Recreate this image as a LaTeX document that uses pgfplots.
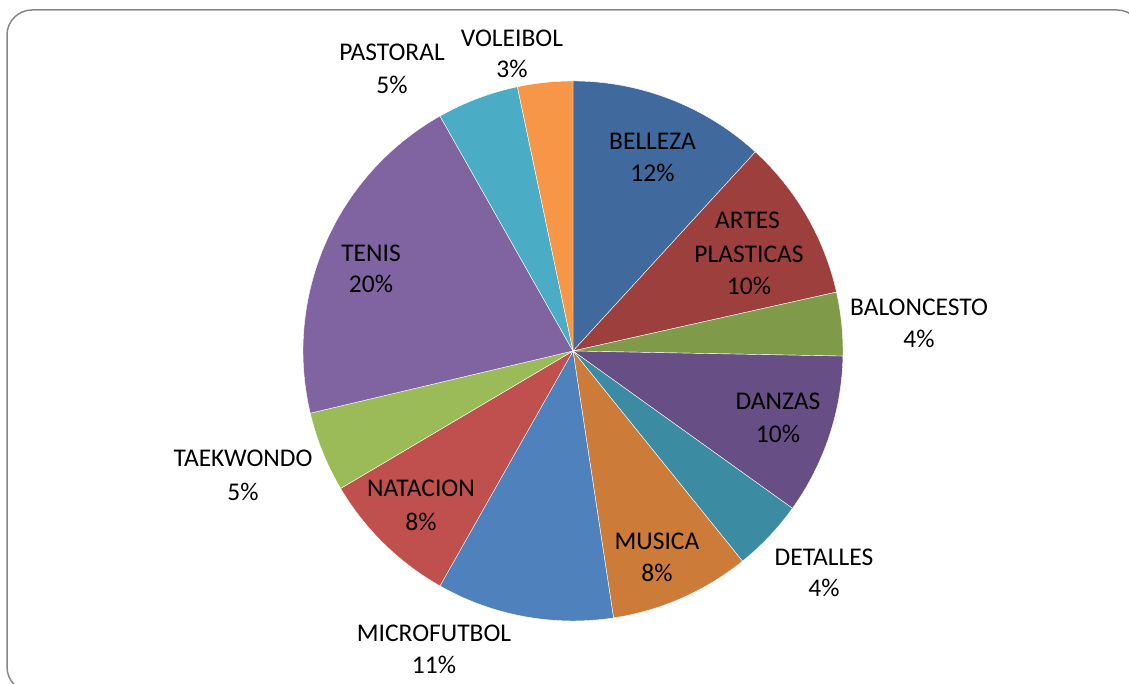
\documentclass[border=0pt]{standalone}
\usepackage{fontspec}
\setmainfont{Carlito}
\usepackage{pgfplots}
\usepackage{pgfplotstable}
\pgfplotsset{compat=1.18}

% slice colours, in drawing order (clockwise from 12 o'clock)
\definecolor{slice0}{HTML}{40699E}
\definecolor{slice1}{HTML}{9D403D}
\definecolor{slice2}{HTML}{7F9A48}
\definecolor{slice3}{HTML}{674F86}
\definecolor{slice4}{HTML}{3B8CA3}
\definecolor{slice5}{HTML}{CC7B38}
\definecolor{slice6}{HTML}{4F81BD}
\definecolor{slice7}{HTML}{C0504D}
\definecolor{slice8}{HTML}{9BBB59}
\definecolor{slice9}{HTML}{8064A2}
\definecolor{slice10}{HTML}{4BACC6}
\definecolor{slice11}{HTML}{F79646}
\definecolor{framegray}{HTML}{878787}

\pgfplotstableread{
name        pct
BELLEZA     11.8
ARTES       9.7
BALONCESTO  3.8
DANZAS      9.6
DETALLES    4.3
MUSICA      8.4
MICROFUTBOL 10.6
NATACION    8.3
TAEKWONDO   4.8
TENIS       20.5
PASTORAL    4.9
VOLEIBOL    3.3
}\piedata

\tikzset{lbl/.style={anchor=base,inner sep=0pt,font=\fontsize{25.5}{31}\selectfont}}
% two-line label, baselines given in axis units
\newcommand\lab[5]{%
  \node[lbl] at (axis cs:#1,#2) {#3};
  \node[lbl] at (axis cs:#1,#4) {#5};}

\begin{document}
\begin{tikzpicture}
\begin{axis}[name=ax,x=1pt,y=1pt,xmin=0,xmax=1129,ymin=0,ymax=684,
  hide axis,clip=false]
% outer frame
\draw[framegray,line width=1.5pt,rounded corners=25pt]
  (axis cs:7,-8) rectangle (axis cs:1142,674);
% pie slices
\def\cum{90}
\pgfplotsforeachungrouped \i in {0,...,11}{%
  \pgfplotstablegetelem{\i}{pct}\of\piedata
  \pgfmathsetmacro\endA{\cum-3.6*\pgfplotsretval}%
  \edef\temp{\noexpand\filldraw[fill=slice\i,draw=white,line width=0.4pt]
    (axis cs:573,333) -- ++(\cum:270pt)
    arc[start angle=\cum,end angle=\endA,radius=270pt] -- cycle;}%
  \temp
  \global\let\cum\endA
}
% labels
\lab{652.5}{534}{BELLEZA}{502}{12\%}
\node[lbl] at (axis cs:747.5,455) {ARTES};
\lab{749}{421}{PLASTICAS}{389}{10\%}
\lab{919}{368}{BALONCESTO}{336}{4\%}
\lab{778}{274}{DANZAS}{241}{10\%}
\lab{824}{118}{DETALLES}{87}{4\%}
\lab{657}{134}{MUSICA}{102}{8\%}
\lab{434}{42}{MICROFUTBOL}{10}{11\%}
\lab{421}{187}{NATACION}{153}{8\%}
\lab{243}{217}{TAEKWONDO}{183}{5\%}
\lab{371}{422}{TENIS}{391}{20\%}
\lab{392}{623}{PASTORAL}{590}{5\%}
\lab{512}{637}{VOLEIBOL}{606}{3\%}
\end{axis}
\pgfresetboundingbox
\useasboundingbox (ax.south west) rectangle (ax.north east);
\end{tikzpicture}
\end{document}
